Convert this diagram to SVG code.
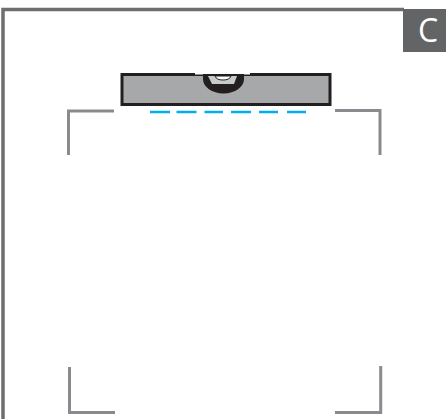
<svg xmlns="http://www.w3.org/2000/svg" width="446" height="419" viewBox="0 0 446 419">
<style>
.frame{fill:none;stroke:#6d6e71;stroke-width:3.500}
.corner{fill:none;stroke:#8a8b8e;stroke-width:3}
.dash{fill:none;stroke:#00aeef;stroke-width:2.600}
</style>
<rect width="446" height="419" fill="#fff"/>
<g id="frame"><path class="frame" d="M3 419V9.500H404"/></g>
<g id="tag">
<rect x="403" y="9" width="43" height="43" fill="#636466"/>
<text x="428" y="42" font-family="'Open Sans','Noto Sans',sans-serif" font-size="32" fill="#fff" text-anchor="middle">C</text>
</g>
<g id="corners">
<path class="corner" d="M68.500 155V111H114"/>
<path class="corner" d="M335 110.500H380V155"/>
<path class="corner" d="M69.500 367V412.500H115"/>
<path class="corner" d="M335 412.500H380.700V366"/>
</g>
<g id="level">
<rect x="122" y="74.500" width="208" height="30" fill="#a7a8aa" stroke="#231f20" stroke-width="3"/>
<path d="M195 73H250V74.500H195Z" fill="#fff"/>
<path d="M203 74H244V79C244 87 235 93.500 223.500 93.500C212 93.500 203 87 203 79Z" fill="#231f20"/>
<path d="M208 76H237L234 84H212Z" fill="#c9cacb"/>
<path d="M215 76H231C230 79 227 80 223 80C219 80 216 79 215 76Z" fill="#fff" stroke="#231f20" stroke-width="1"/>
</g>
<g id="connectors">
<path class="dash" d="M150 112H170M176.500 112H196.500M204.500 112H223M231 112H251M259 112H278M287 112H306"/>
</g>
</svg>
